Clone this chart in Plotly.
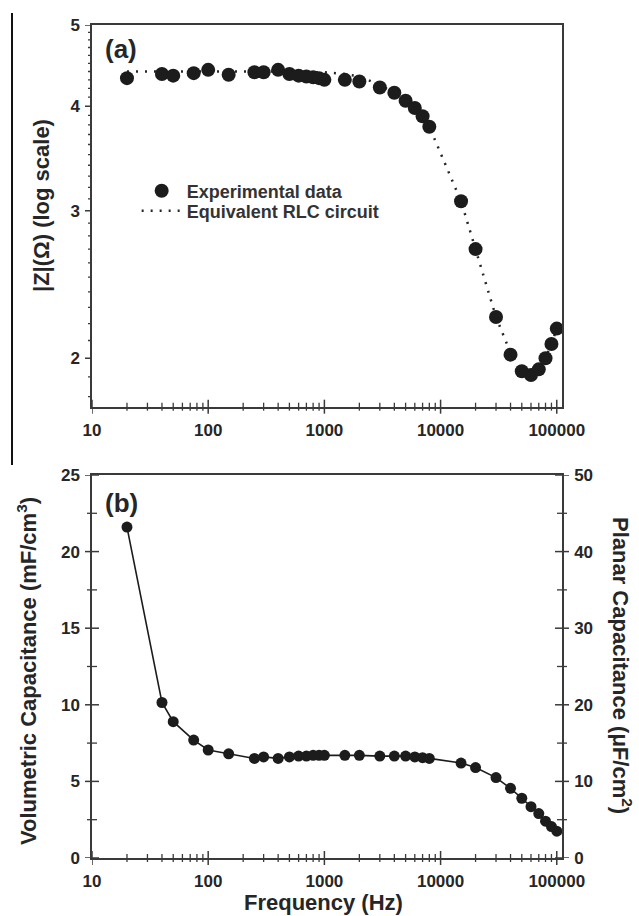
import plotly.graph_objects as go

# Measurement frequencies (Hz)
freq = [20, 40, 50, 75, 100, 150, 250, 300, 400, 500, 600, 700, 800, 900, 1000,
        1500, 2000, 3000, 4000, 5000, 6000, 7000, 8000, 15000, 20000, 30000,
        40000, 50000, 60000, 70000, 80000, 90000, 100000]

# (a) impedance magnitude |Z| (Ohm): measured and equivalent-circuit fit
z_exp = [4.32, 4.37, 4.35, 4.38, 4.42, 4.36, 4.39, 4.39, 4.42, 4.37, 4.35, 4.34,
         4.33, 4.32, 4.30, 4.30, 4.28, 4.21, 4.15, 4.06, 3.98, 3.89, 3.78, 3.08,
         2.70, 2.24, 2.02, 1.93, 1.91, 1.94, 2.00, 2.08, 2.17]
z_fit = [4.40, 4.40, 4.40, 4.40, 4.40, 4.40, 4.40, 4.40, 4.40, 4.40, 4.40, 4.40,
         4.39, 4.39, 4.39, 4.37, 4.34, 4.24, 4.15, 4.06, 3.97, 3.88, 3.78, 3.08,
         2.70, 2.24, 2.03, 1.93, 1.91, 1.94, 2.00, 2.08, 2.17]

# (b) volumetric capacitance (mF/cm^3)
cap_vol = [21.6, 10.15, 8.9, 7.7, 7.05, 6.8, 6.5, 6.6, 6.5, 6.6, 6.65, 6.65, 6.7,
           6.7, 6.7, 6.7, 6.7, 6.65, 6.65, 6.65, 6.6, 6.55, 6.5, 6.2, 5.9, 5.25,
           4.55, 3.9, 3.35, 2.9, 2.4, 2.05, 1.75]

# Axis ticks
x_major = [10, 100, 1000, 10000, 100000]
x_labels = ["10", "100", "1000", "10000", "100000"]
x_minor = [m * d for d in (10, 100, 1000, 10000) for m in range(2, 10)]
z_major = [2, 3, 4, 5]
z_labels = ["2", "3", "4", "5"]
z_minor = [1.8, 1.9] + [round(b + k / 10, 1) for b in (2, 3, 4) for k in range(1, 10)]
vol_major = [0, 5, 10, 15, 20, 25]
vol_minor = [2.5, 7.5, 12.5, 17.5, 22.5]
pl_major = [0, 10, 20, 30, 40, 50]
pl_minor = [5, 15, 25, 35, 45]

INK = "#262626"
AX = "#3a3a3a"
CLEAR = "rgba(0,0,0,0)"
FONT = "Liberation Sans, Arial, sans-serif"
X_RANGE = [1.0, 5.045]
Z_RANGE = [0.2432, 0.69897]
TOP = [0.5418, 1.0]
BOT = [0.0, 0.4598]

tickfont = dict(family=FONT, size=17, color=INK, weight="bold")

fig = go.Figure()

fig.add_trace(go.Scatter(
    x=freq, y=z_fit, xaxis="x", yaxis="y", mode="lines",
    name="Equivalent RLC circuit", legend="legend2",
    line=dict(color=INK, width=2.5, dash="2px,7px"),
))
fig.add_trace(go.Scatter(
    x=freq, y=z_exp, xaxis="x", yaxis="y", mode="markers",
    name="Experimental data", legend="legend",
    marker=dict(color="#1c1c1c", size=14),
))
fig.add_trace(go.Scatter(
    x=freq, y=cap_vol, xaxis="x2", yaxis="y2", mode="lines+markers",
    showlegend=False,
    line=dict(color="#1c1c1c", width=1.6),
    marker=dict(color="#1c1c1c", size=11),
))
# transparent copy so the right-hand (planar) axis is laid out
fig.add_trace(go.Scatter(x=freq, y=cap_vol, xaxis="x2", yaxis="y3", mode="markers",
                         marker=dict(opacity=0, size=1), hoverinfo="skip",
                         showlegend=False))

# Tick marks: drawn as short lines anchored to each axis, positioned by the
# axis scale at the tick values and sized in pixels.
tick_shapes = []


def x_ticks(xref, yref, vals, lo, hi, width):
    for v in vals:
        tick_shapes.append(dict(
            type="line", xref=xref, yref=yref + " domain", x0=v, x1=v,
            ysizemode="pixel", yanchor=0, y0=lo, y1=hi, layer="above",
            line=dict(color=AX, width=width)))


def y_ticks(yref, xref, side, vals, lo, hi, width):
    for v in vals:
        tick_shapes.append(dict(
            type="line", yref=yref, xref=xref + " domain", y0=v, y1=v,
            xsizemode="pixel", xanchor=side, x0=lo, x1=hi, layer="above",
            line=dict(color=AX, width=width)))


# panel (a): crossing ticks on x, outward ticks on y
x_ticks("x", "y", x_major, -7, 7, 1.5)
x_ticks("x", "y", x_minor, -4, 4, 1.3)
y_ticks("y", "x", 0, z_major, -7, 0, 1.5)
y_ticks("y", "x", 0, z_minor, -4, 0, 1.3)
# panel (b): crossing ticks on every axis
x_ticks("x2", "y2", x_major, -7, 7, 1.5)
x_ticks("x2", "y2", x_minor, -4, 4, 1.3)
y_ticks("y2", "x2", 0, vol_major, -7, 7, 1.5)
y_ticks("y2", "x2", 0, vol_minor, -5, 5, 1.3)
y_ticks("y3", "x2", 1, pl_major, -7, 7, 1.5)
y_ticks("y3", "x2", 1, pl_minor, -5, 5, 1.3)

# page rule at the left edge
page_rule = dict(type="line", xref="paper", yref="paper", x0=-0.1702, x1=-0.1702,
                 y0=1.0144, y1=0.4718, line=dict(color="#111111", width=2))

# label spacing keeps the usual tick offset; the visible marks are the shapes
base_tick = dict(tickmode="array", tickfont=tickfont, ticks="outside", ticklen=7,
                 tickwidth=1, tickcolor=CLEAR, showline=True, linecolor=AX,
                 linewidth=1.5, showgrid=False, zeroline=False)
main_x = dict(base_tick, type="log", range=X_RANGE, tickvals=x_major,
              ticktext=x_labels, mirror=True)

legend_font = dict(family=FONT, size=18, color="#333333", weight="bold")

fig.update_layout(
    width=639, height=916,
    margin=dict(l=92, r=77, t=25, b=58),
    paper_bgcolor="white", plot_bgcolor="white",
    showlegend=True,
    legend=dict(x=0.095, y=0.8007, xanchor="left", yanchor="middle",
                bgcolor=CLEAR, itemwidth=40, font=legend_font, itemclick=False),
    legend2=dict(x=0.095, y=0.7767, xanchor="left", yanchor="middle",
                 bgcolor=CLEAR, itemwidth=40, font=legend_font, itemclick=False),
    xaxis=dict(main_x, anchor="y"),
    xaxis2=dict(main_x, anchor="y2"),
    yaxis=dict(base_tick, type="log", range=Z_RANGE, domain=TOP, anchor="x",
               tickvals=z_major, ticktext=z_labels, mirror=True),
    yaxis2=dict(base_tick, range=[0, 25], domain=BOT, anchor="x2",
                tickvals=vol_major),
    yaxis3=dict(base_tick, range=[0, 50], anchor="x2", overlaying="y2",
                side="right", tickvals=pl_major),
    shapes=tick_shapes + [page_rule],
)

title_font = dict(family=FONT, size=22, color=INK, weight="bold")
annotations = [
    dict(text="|Z|(Ω) (log scale)", x=-0.1085, y=0.7827, textangle=-90),
    dict(text="Volumetric Capacitance (mF/cm<sup>3</sup>)", x=-0.1383, y=0.2245,
         textangle=-90),
    dict(text="Planar Capacitance (μF/cm<sup>2</sup>)", x=1.1277, y=0.2317,
         textangle=90),
    dict(text="Frequency (Hz)", x=0.4915, y=-0.054),
]
for a in annotations:
    fig.add_annotation(xref="paper", yref="paper", showarrow=False,
                       xanchor="center", yanchor="middle", font=title_font, **a)

panel_font = dict(family=FONT, size=26, color=INK, weight="bold")
fig.add_annotation(text="(a)", xref="paper", yref="paper", x=0.0617, y=0.971,
                   showarrow=False, xanchor="center", yanchor="middle", font=panel_font)
fig.add_annotation(text="(b)", xref="paper", yref="paper", x=0.0638, y=0.426,
                   showarrow=False, xanchor="center", yanchor="middle", font=panel_font)

fig.write_html("out.html")
